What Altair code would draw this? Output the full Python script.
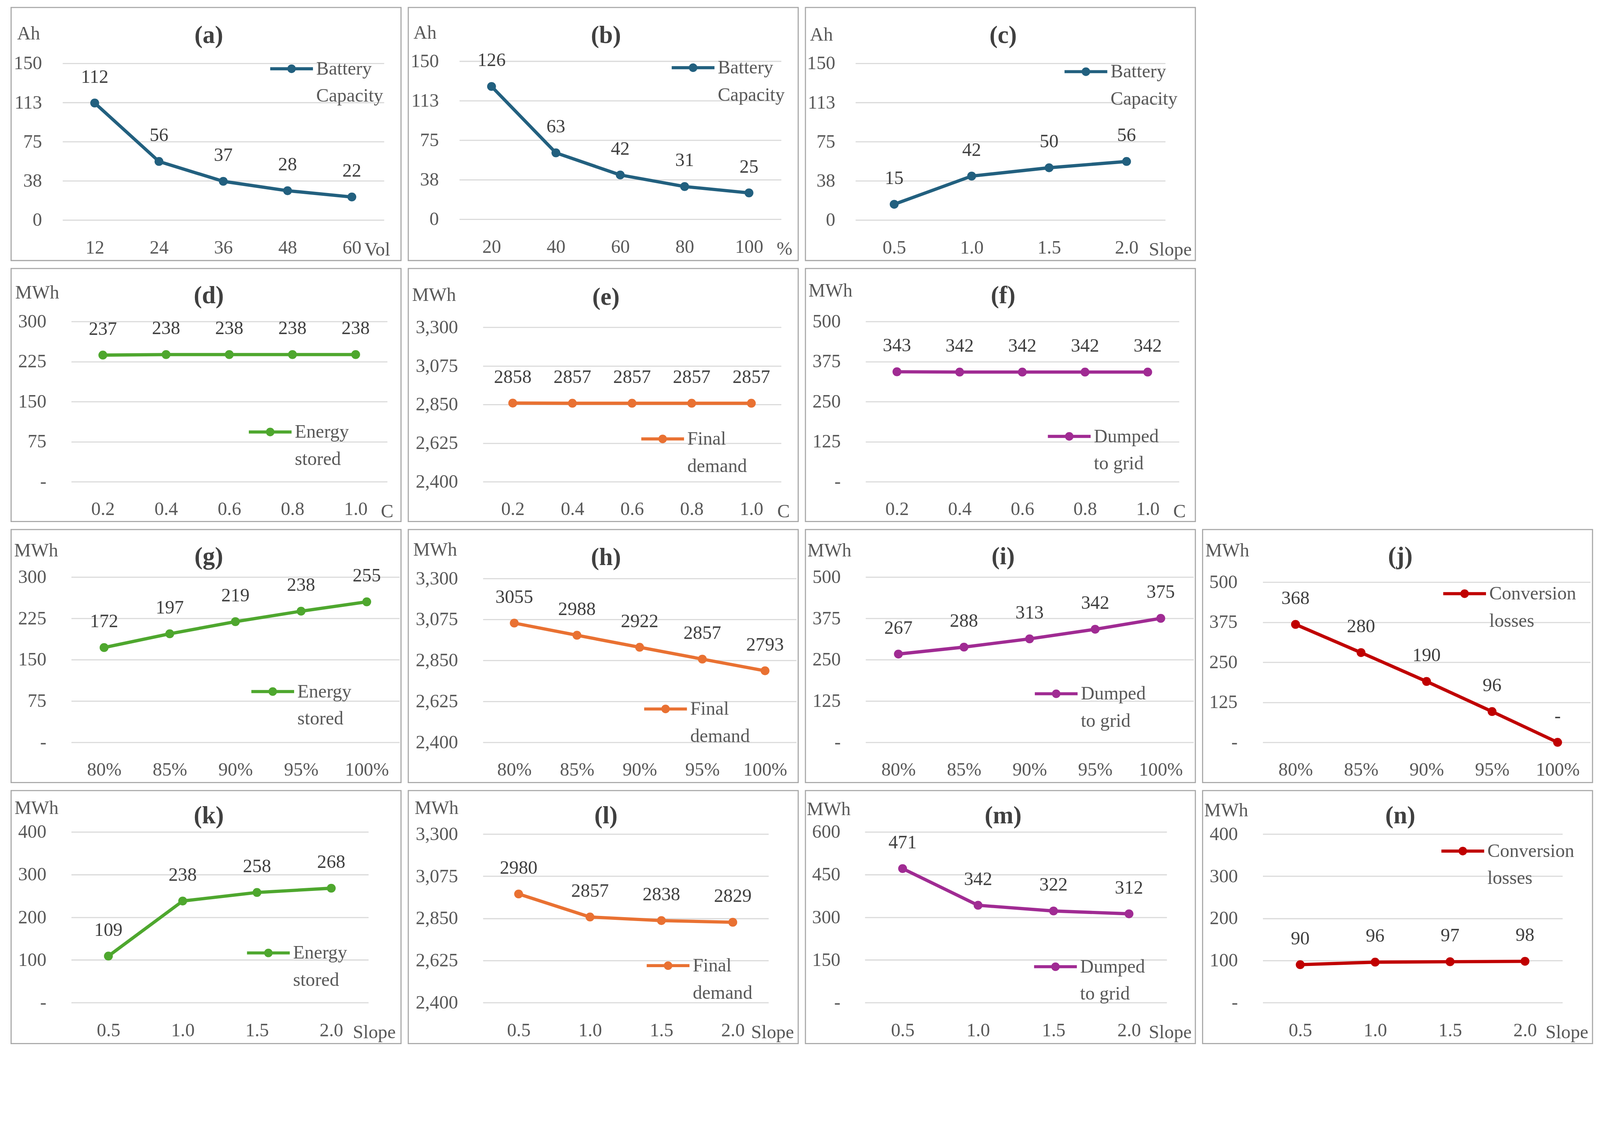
import json
import altair as alt
import pandas as pd

FONT = "Liberation Serif"
GRID = "#D9D9D9"
BORDER = "#A6A6A6"
TXT = "#595959"
LBL = "#404040"
PW, PH = 1076, 698

# ---------------- data ----------------
x_voltage = ["12", "24", "36", "48", "60"]
x_dod = ["20", "40", "60", "80", "100"]
x_slope = ["0.5", "1.0", "1.5", "2.0"]
x_crate = ["0.2", "0.4", "0.6", "0.8", "1.0"]
x_eff = ["80%", "85%", "90%", "95%", "100%"]

y_a = [112, 56, 37, 28, 22]
y_b = [126, 63, 42, 31, 25]
y_c = [15, 42, 50, 56]
y_d = [237, 238, 238, 238, 238]
y_e = [2858, 2857, 2857, 2857, 2857]
y_f = [343, 342, 342, 342, 342]
y_g = [172, 197, 219, 238, 255]
y_h = [3055, 2988, 2922, 2857, 2793]
y_i = [267, 288, 313, 342, 375]
y_j = [368, 280, 190, 96, 0]
y_k = [109, 238, 258, 268]
y_l = [2980, 2857, 2838, 2829]
y_m = [471, 342, 322, 312]
y_n = [90, 96, 97, 98]

ticks_ah = [0, 37.5, 75, 112.5, 150]
ticks_300 = [0, 75, 150, 225, 300]
ticks_3300 = [2400, 2625, 2850, 3075, 3300]
ticks_500 = [0, 125, 250, 375, 500]
ticks_400 = [0, 100, 200, 300, 400]
ticks_600 = [0, 150, 300, 450, 600]

S_BAT = ("Battery Capacity", ["Battery", "Capacity"], "#22607F")
S_EST = ("Energy stored", ["Energy", "stored"], "#4EA72E")
S_FIN = ("Final demand", ["Final", "demand"], "#E97132")
S_DMP = ("Dumped to grid", ["Dumped", "to grid"], "#A02B93")
S_CNV = ("Conversion losses", ["Conversion", "losses"], "#C00000")

# legend symbol: thick line with a dot in the middle (unit box -1..1)
SYM = ("M-1,-0.072H1V0.072H-1Z "
       "M0.2,0A0.2,0.2,0,1,1,-0.2,0A0.2,0.2,0,1,1,0.2,0Z")
SYM_W = 118

panels = [
    dict(name="(a)", cats=x_voltage, vals=y_a, ticks=ticks_ah, yunit="Ah", xunit="Vol", xdx=34, s=S_BAT, dash=False,
         L=142, T=154, W=887, H=432, lcx=632, lcy=15, uy=72, ux=16, ty=77, lp=57),
    dict(name="(b)", cats=x_dod, vals=y_b, ticks=ticks_ah, yunit="Ah", xunit="%", xdx=76, s=S_BAT, dash=False,
         L=141, T=148, W=888, H=436, lcx=645, lcy=18, uy=70, ux=14, ty=77, lp=57),
    dict(name="(c)", cats=x_slope, vals=y_c, ticks=ticks_ah, yunit="Ah", xunit="Slope", xdx=61, s=S_BAT, dash=False,
         L=138, T=154, W=855, H=432, lcx=636, lcy=23, uy=75, ux=12, ty=77, lp=56),
    dict(name="(d)", cats=x_crate, vals=y_d, ticks=ticks_300, yunit="MWh", xunit="C", xdx=69, s=S_EST, dash=True,
         L=166, T=146, W=872, H=442, lcx=549, lcy=305, uy=66, ux=11, ty=75, lp=69),
    dict(name="(e)", cats=x_crate, vals=y_e, ticks=ticks_3300, yunit="MWh", xunit="C", xdx=71, s=S_FIN, dash=False,
         L=206, T=162, W=823, H=426, lcx=496, lcy=308, uy=73, ux=10, ty=80, lp=69),
    dict(name="(f)", cats=x_crate, vals=y_f, ticks=ticks_500, yunit="MWh", xunit="C", xdx=70, s=S_DMP, dash=True,
         L=166, T=146, W=865, H=442, lcx=562, lcy=317, uy=61, ux=8, ty=75, lp=69),
    dict(name="(g)", cats=x_eff, vals=y_g, ticks=ticks_300, yunit="MWh", xunit="", xdx=0, s=S_EST, dash=True,
         L=166, T=131, W=906, H=456, lcx=556, lcy=316, uy=58, ux=8, ty=75, lp=69),
    dict(name="(h)", cats=x_eff, vals=y_h, ticks=ticks_3300, yunit="MWh", xunit="", xdx=0, s=S_FIN, dash=False,
         L=206, T=135, W=865, H=452, lcx=504, lcy=360, uy=56, ux=13, ty=77, lp=69),
    dict(name="(i)", cats=x_eff, vals=y_i, ticks=ticks_500, yunit="MWh", xunit="", xdx=0, s=S_DMP, dash=True,
         L=166, T=131, W=905, H=456, lcx=526, lcy=322, uy=58, ux=5, ty=75, lp=69),
    dict(name="(j)", cats=x_eff, vals=y_j, ticks=ticks_500, yunit="MWh", xunit="", xdx=0, s=S_CNV, dash=True,
         L=166, T=145, W=904, H=442, lcx=557, lcy=32, uy=58, ux=7, ty=74, lp=70),
    dict(name="(k)", cats=x_slope, vals=y_k, ticks=ticks_400, yunit="MWh", xunit="Slope", xdx=59, s=S_EST, dash=True,
         L=166, T=114, W=820, H=471, lcx=544, lcy=334, uy=48, ux=9, ty=70, lp=69),
    dict(name="(l)", cats=x_slope, vals=y_l, ticks=ticks_3300, yunit="MWh", xunit="Slope", xdx=50, s=S_FIN, dash=False,
         L=206, T=120, W=788, H=465, lcx=511, lcy=363, uy=48, ux=17, ty=70, lp=69),
    dict(name="(m)", cats=x_slope, vals=y_m, ticks=ticks_600, yunit="MWh", xunit="Slope", xdx=54, s=S_DMP, dash=True,
         L=164, T=114, W=833, H=471, lcx=526, lcy=372, uy=51, ux=3, ty=70, lp=68),
    dict(name="(n)", cats=x_slope, vals=y_n, ticks=ticks_400, yunit="MWh", xunit="Slope", xdx=56, s=S_CNV, dash=True,
         L=166, T=120, W=827, H=465, lcx=552, lcy=47, uy=55, ux=4, ty=70, lp=69),
]


def build(p):
    cats = p["cats"]
    n = len(cats)
    series, lines, color = p["s"]
    L, T, W, H = p["L"], p["T"], p["W"], p["H"]
    df = pd.DataFrame({"x": cats, "v": p["vals"], "s": [series] * n})
    base = alt.Chart(df)
    step = W / n
    last_x = L + W - step / 2

    # the view is the whole bordered panel; the plotting region sits inside it
    xscale = alt.Scale(type="point", padding=0.5, domain=cats, range=[L, L + W])
    yscale = alt.Scale(domain=[p["ticks"][0], p["ticks"][-1]], nice=False, zero=False,
                       range=[T + H, T])
    yexpr = ("datum.value == 0 ? '-' : format(datum.value, ',.0f')" if p["dash"]
             else "format(datum.value, ',.0f')")

    xlab_y = T + H + 76
    xb_kwargs = dict(orient="bottom", offset=-(PH - xlab_y), labelAngle=0, labelBaseline="middle",
                     labelPadding=0, ticks=False, tickSize=0, domain=False, grid=False,
                     labelFontSize=52, labelColor=TXT, labelFont=FONT)
    if p["xunit"]:
        xb_kwargs.update(title=p["xunit"], titleX=last_x + p["xdx"], titleY=6,
                         titleAlign="left", titleBaseline="middle", titleFontSize=52,
                         titleFontWeight="normal", titleColor=TXT, titleFont=FONT)
    else:
        xb_kwargs.update(title=None)
    x_bottom = alt.Axis(**xb_kwargs)

    x_top = alt.Axis(orient="top", labels=False, ticks=False, tickSize=0, domain=False, grid=False,
                     title=p["name"], titleX=545, titleY=p["ty"],
                     titleAlign="center", titleBaseline="middle", titleFontSize=68,
                     titleFontWeight="bold", titleColor=LBL, titleFont=FONT)

    ylab_x = L - p["lp"]
    y_axis = alt.Axis(orient="left", offset=-ylab_x, values=p["ticks"], labelExpr=yexpr,
                      ticks=False, tickSize=0, domain=False, grid=True, gridColor=GRID, gridWidth=3,
                      labelPadding=0, labelFontSize=52, labelColor=TXT, labelFont=FONT,
                      labelOverlap=False, labelBaseline="middle",
                      title=p["yunit"], titleAngle=0, titleAlign="left", titleBaseline="middle",
                      titleX=p["ux"] - ylab_x, titleY=p["uy"], titleFontSize=52,
                      titleFontWeight="normal", titleColor=TXT, titleFont=FONT)

    line = base.mark_line(strokeWidth=9, color=color, strokeCap="round", strokeJoin="round").encode(
        x=alt.X("x:N", sort=cats, scale=xscale, axis=x_bottom),
        y=alt.Y("v:Q", scale=yscale, axis=y_axis),
    )

    pts = base.mark_point(filled=True, size=600, opacity=1).encode(
        x=alt.X("x:N", sort=cats, scale=xscale, axis=None),
        y=alt.Y("v:Q", scale=yscale, axis=None),
        color=alt.Color("s:N", scale=alt.Scale(domain=[series], range=[color]),
                        legend=alt.Legend(orient="none", legendX=L + p["lcx"] - SYM_W / 2,
                                          legendY=T + p["lcy"] - SYM_W / 2, title=None,
                                          symbolType=SYM, symbolSize=SYM_W * SYM_W,
                                          symbolStrokeWidth=0, symbolOpacity=1,
                                          symbolFillColor=color,
                                          labelFontSize=52, labelFont=FONT, labelColor=TXT,
                                          labelLimit=700, labelOffset=9, padding=0,
                                          labelExpr=json.dumps(lines))),
    )

    labels = base.transform_calculate(
        lab="datum.v == 0 ? '-' : format(datum.v, 'd')"
    ).mark_text(dy=-72, fontSize=52, font=FONT, color=LBL, baseline="middle").encode(
        x=alt.X("x:N", sort=cats, scale=xscale, axis=x_top),
        y=alt.Y("v:Q", scale=yscale, axis=None),
        text="lab:N",
    )

    return alt.layer(line, pts, labels).resolve_axis(
        x="independent", y="independent"
    ).properties(width=PW, height=PH)


charts = [build(p) for p in panels]
rows = [charts[0:3], charts[3:6], charts[6:10], charts[10:14]]
row_charts = [
    alt.hconcat(*r, spacing=16).resolve_scale(
        x="independent", y="independent", color="independent")
    for r in rows
]
chart = alt.vconcat(*row_charts, spacing=18).resolve_scale(
    x="independent", y="independent", color="independent"
).properties(
    padding={"left": 20, "top": -98, "right": 10, "bottom": 10}
).configure(
    font=FONT, style={"guide-label": {"lineHeight": 75}}
).configure_view(stroke=BORDER, strokeWidth=3)

chart.save("out.html", embed_options={"renderer": "svg", "actions": False})
